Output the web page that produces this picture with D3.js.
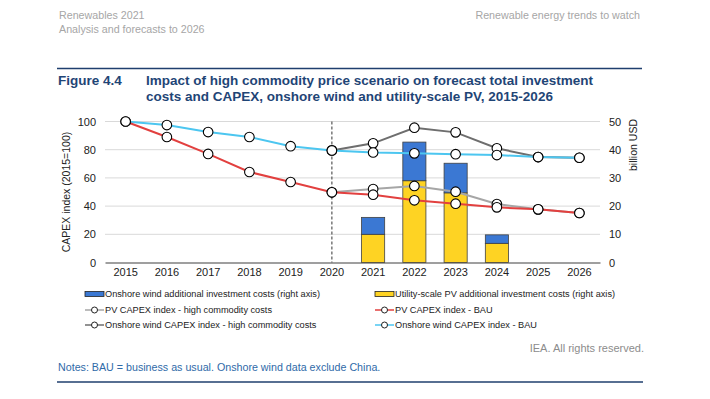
<!DOCTYPE html>
<html>
<head>
<meta charset="utf-8">
<script src="https://cdn.jsdelivr.net/npm/d3@7"></script>
<style>
  body { margin: 0; background: #fff; }
  svg { font-family: "Liberation Sans", Arial, sans-serif; }
  .grid line { stroke: #d9d9d9; }
  .axis text { fill: #222; font-size: 11px; }
  .legend text { font-size: 9.2px; fill: #222; }
</style>
</head>
<body>
<svg width="710" height="399"></svg>
<script>
var svg = d3.select('svg');

// Data
var years = ['2015','2016','2017','2018','2019','2020','2021','2022','2023','2024','2025','2026'];
var windBau = [100, 97.5, 92.5, 89, 82.5, 79.5, 78, 77.4, 76.8, 76.2, 74.8, 74.3];
var windHigh = [null, null, null, null, null, 79.5, 84.5, 95.6, 92.3, 81, 74.8, 74.3];
var pvBau = [100, 89, 77, 64.2, 57.1, 49.8, 48.1, 44.1, 41.7, 39.1, 37.7, 35.1];
var pvHigh = [null, null, null, null, null, 49.8, 52.1, 54.3, 50.2, 41.5, 37.7, 35.1];
var barYears = ['2021','2022','2023','2024'];
var pvInvest = [10, 29, 24.7, 6.8];
var windInvest = [6, 13.7, 10.5, 3];
var leftTicks = [0, 20, 40, 60, 80, 100];
var rightTicks = [0, 10, 20, 30, 40, 50];

var colors = {
    wind: '#3b78d3', pv: '#fed323',
    pvHigh: '#a6a6a6', pvBau: '#e2403f',
    windHigh: '#6e6e6e', windBau: '#4cc6f0'
};

// Layout
var plot = {l: 105, r: 600, t: 121.5, b: 262.5};

var x = d3.scaleBand().domain(years).range([plot.l, plot.r]);
var yL = d3.scaleLinear().domain([0, 100]).range([plot.b, plot.t]);
var yR = d3.scaleLinear().domain([0, 50]).range([plot.b, plot.t]);

// Header
svg.append('text').attr('x', 59).attr('y', 19).attr('fill', '#a6a6a6')
    .style('font-size', '10.7px').text('Renewables 2021');
svg.append('text').attr('x', 59).attr('y', 33).attr('fill', '#a6a6a6')
    .style('font-size', '10.7px').text('Analysis and forecasts to 2026');
svg.append('text').attr('x', 640).attr('y', 19).attr('fill', '#a6a6a6')
    .attr('text-anchor', 'end').style('font-size', '10.7px').text('Renewable energy trends to watch');

svg.append('line').attr('x1', 57).attr('x2', 642).attr('y1', 68.5).attr('y2', 68.5)
    .attr('stroke', '#1f3f6e').attr('stroke-width', 1.3);

svg.append('text').attr('x', 58).attr('y', 85).attr('fill', '#1f4576')
    .style('font-size', '13.5px').style('font-weight', 'bold').text('Figure 4.4');
svg.append('text').attr('x', 146).attr('y', 85).attr('fill', '#1f4576')
    .style('font-size', '13.5px').style('font-weight', 'bold')
    .text('Impact of high commodity price scenario on forecast total investment');
svg.append('text').attr('x', 146).attr('y', 101).attr('fill', '#1f4576')
    .style('font-size', '13.5px').style('font-weight', 'bold')
    .text('costs and CAPEX, onshore wind and utility-scale PV, 2015-2026');

// Gridlines
svg.append('g').attr('class', 'grid')
    .selectAll('line')
    .data(leftTicks.filter(function(d){ return d > 0; }))
    .enter().append('line')
    .attr('x1', plot.l).attr('x2', plot.r)
    .attr('y1', function(d){ return yL(d); })
    .attr('y2', function(d){ return yL(d); });

// Axes
var leftAxis = svg.append('g').attr('class', 'axis')
    .attr('transform', 'translate(' + [plot.l - 6, 0] + ')')
    .call(d3.axisLeft(yL).tickValues(leftTicks).tickSize(0).tickPadding(3));
leftAxis.select('.domain').remove();

var rightAxis = svg.append('g').attr('class', 'axis')
    .attr('transform', 'translate(' + [plot.r + 6, 0] + ')')
    .call(d3.axisRight(yR).tickValues(rightTicks).tickSize(0).tickPadding(3));
rightAxis.select('.domain').remove();

var bottomAxis = svg.append('g').attr('class', 'axis')
    .attr('transform', 'translate(' + [0, plot.b] + ')')
    .call(d3.axisBottom(x).tickSize(0).tickPadding(6));
bottomAxis.select('.domain').attr('stroke', '#7f7f7f').attr('stroke-width', 1.5);

svg.append('text')
    .attr('transform', 'translate(' + [70, (plot.t + plot.b) / 2] + ')rotate(-90)')
    .attr('text-anchor', 'middle').style('font-size', '10.5px').attr('fill', '#222')
    .text('CAPEX index (2015=100)');
svg.append('text')
    .attr('transform', 'translate(' + [637, 145] + ')rotate(-90)')
    .attr('text-anchor', 'middle').style('font-size', '10.5px').attr('fill', '#222')
    .text('billion USD');

// Bars (right axis): PV at bottom, wind stacked on top
var barW = x.bandwidth() * 0.56;
var barG = svg.append('g');
barYears.forEach(function(yr, i) {
    var cx = x(yr) + x.bandwidth() / 2;
    barG.append('rect')
        .attr('x', cx - barW / 2).attr('width', barW)
        .attr('y', yR(pvInvest[i]))
        .attr('height', yR(0) - yR(pvInvest[i]))
        .attr('fill', colors.pv).attr('stroke', '#404040').attr('stroke-width', 0.8);
    barG.append('rect')
        .attr('x', cx - barW / 2).attr('width', barW)
        .attr('y', yR(pvInvest[i] + windInvest[i]))
        .attr('height', yR(pvInvest[i]) - yR(pvInvest[i] + windInvest[i]))
        .attr('fill', colors.wind).attr('stroke', '#404040').attr('stroke-width', 0.8);
});

// Dashed 2020 marker
svg.append('line')
    .attr('x1', x('2020') + x.bandwidth() / 2).attr('x2', x('2020') + x.bandwidth() / 2)
    .attr('y1', plot.t).attr('y2', plot.b)
    .attr('stroke', '#555').attr('stroke-width', 1.2).attr('stroke-dasharray', '3,2');

// Lines
var lineGen = d3.line()
    .defined(function(d){ return d.v !== null; })
    .x(function(d){ return x(d.year) + x.bandwidth() / 2; })
    .y(function(d){ return yL(d.v); });

var seriesList = [
    {values: windHigh, color: colors.windHigh},
    {values: pvHigh, color: colors.pvHigh},
    {values: windBau, color: colors.windBau},
    {values: pvBau, color: colors.pvBau}
];

seriesList.forEach(function(s) {
    var pts = years.map(function(yr, i){ return {year: yr, v: s.values[i]}; });
    svg.append('path').datum(pts)
        .attr('d', lineGen)
        .attr('fill', 'none').attr('stroke', s.color).attr('stroke-width', 2);
});
seriesList.forEach(function(s) {
    var pts = years.map(function(yr, i){ return {year: yr, v: s.values[i]}; })
        .filter(function(d){ return d.v !== null; });
    svg.append('g').selectAll('circle').data(pts).enter().append('circle')
        .attr('cx', function(d){ return x(d.year) + x.bandwidth() / 2; })
        .attr('cy', function(d){ return yL(d.v); })
        .attr('r', 4.8)
        .attr('fill', '#fff').attr('stroke', '#000').attr('stroke-width', 1.1);
});

// Legend
var legendItems = [
    {label: 'Onshore wind additional investment costs (right axis)', type: 'bar', color: colors.wind, x: 85, y: 294},
    {label: 'Utility-scale PV additional investment costs (right axis)', type: 'bar', color: colors.pv, x: 375, y: 294},
    {label: 'PV CAPEX index - high commodity costs', type: 'line', color: colors.pvHigh, x: 85, y: 310},
    {label: 'PV CAPEX index - BAU', type: 'line', color: colors.pvBau, x: 375, y: 310},
    {label: 'Onshore wind CAPEX index - high commodity costs', type: 'line', color: colors.windHigh, x: 85, y: 325},
    {label: 'Onshore wind CAPEX index - BAU', type: 'line', color: colors.windBau, x: 375, y: 325}
];

var legend = svg.append('g').attr('class', 'legend');
legendItems.forEach(function(d) {
    var g = legend.append('g').attr('transform', 'translate(' + [d.x, d.y] + ')');
    if (d.type === 'bar') {
        g.append('rect').attr('x', 0).attr('y', -2.5).attr('width', 19).attr('height', 5)
            .attr('fill', d.color).attr('stroke', '#222').attr('stroke-width', 0.8);
    } else {
        g.append('line').attr('x1', 0).attr('x2', 19).attr('y1', 0).attr('y2', 0)
            .attr('stroke', d.color).attr('stroke-width', 1.5);
        g.append('circle').attr('cx', 9.5).attr('cy', 0).attr('r', 3)
            .attr('fill', '#fff').attr('stroke', '#222').attr('stroke-width', 1);
    }
    g.append('text').attr('x', 20).attr('y', 3.3).text(d.label);
});

// Footer
svg.append('text').attr('x', 644).attr('y', 352).attr('text-anchor', 'end')
    .attr('fill', '#8c8c8c').style('font-size', '11px').text('IEA. All rights reserved.');
svg.append('text').attr('x', 58).attr('y', 371).attr('fill', '#2f6aa8')
    .style('font-size', '10.7px').text('Notes: BAU = business as usual. Onshore wind data exclude China.');
svg.append('line').attr('x1', 57).attr('x2', 643).attr('y1', 382).attr('y2', 382)
    .attr('stroke', '#1f3f6e').attr('stroke-width', 1.3);
</script>
</body>
</html>
